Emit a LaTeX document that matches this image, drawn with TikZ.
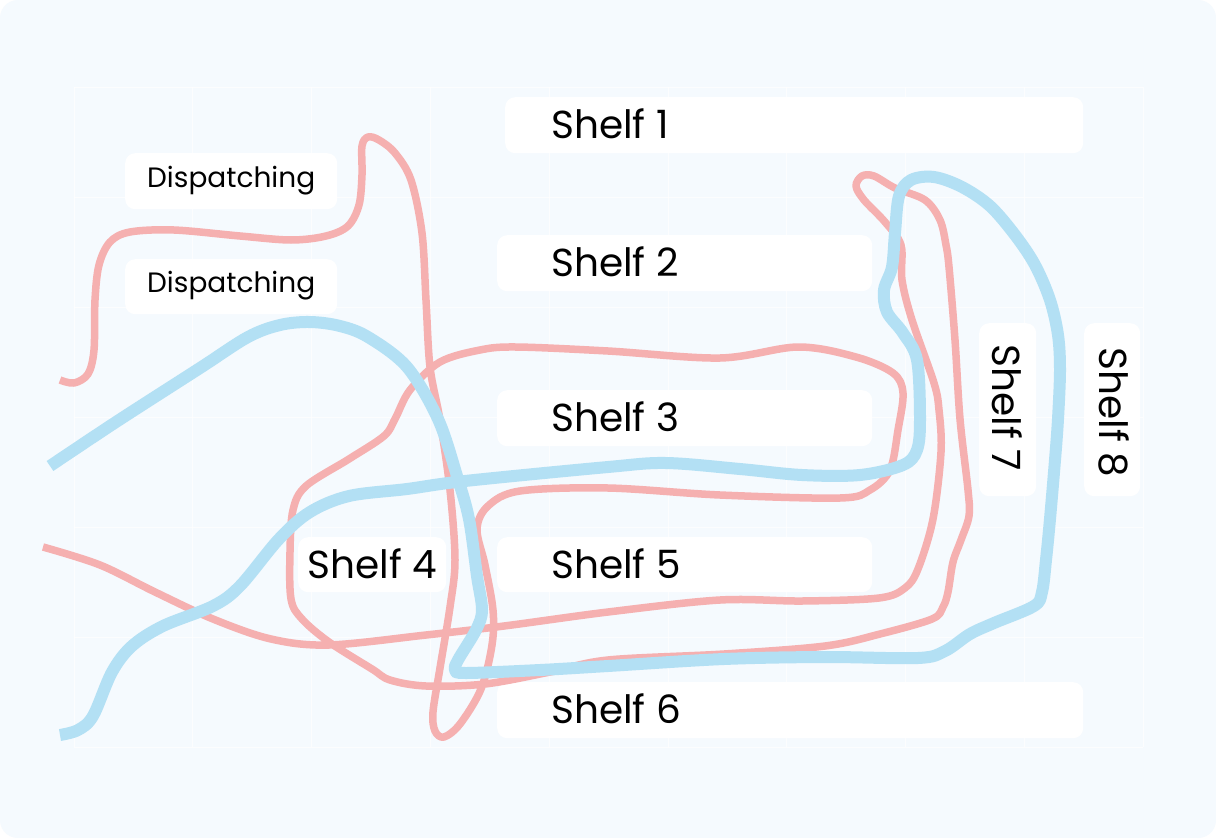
\documentclass[tikz,border=0pt]{standalone}
\usepackage{fontspec}
\setmainfont{Poppins}
\definecolor{bgblue}{HTML}{F5FAFE}
\definecolor{redline}{HTML}{F5B0B0}
\definecolor{blueline}{HTML}{B3E0F4}
\begin{document}
\begin{tikzpicture}[x=1pt,y=-1pt,
  gridline/.style={draw=white, line width=1pt, opacity=0.7},
  box/.style={fill=white, draw=none, rounded corners=10pt, inner sep=0pt, anchor=north west},
  shelftext/.style={font=\fontsize{39}{44}\selectfont, text=black, inner sep=0pt},
  disptext/.style={font=\fontsize{28}{32}\selectfont, text=black, inner sep=0pt},
  redpath/.style={draw=redline, line width=7.5pt, line join=round},
  bluepath/.style={draw=blueline, line width=12pt, line join=round}]
\useasboundingbox (0,0) rectangle (1216,838);
\fill[white] (0,0) rectangle (1216,838);
\fill[bgblue, rounded corners=18pt] (0,0) rectangle (1216,838);
% grid
\foreach \i in {0,...,9} \draw[gridline] ({74+118.8*\i},87) -- ({74+118.8*\i},747);
\foreach \j in {0,...,6} \draw[gridline] (74,{87+110*\j}) -- (1143,{87+110*\j});
% boxes
\node[box, minimum width=578pt, minimum height=56pt] (b1) at (505,97) {};
\node[box, minimum width=212pt, minimum height=56pt] (d1) at (125,153) {};
\node[box, minimum width=375pt, minimum height=56pt] (b2) at (497,235) {};
\node[box, minimum width=212pt, minimum height=55pt] (d2) at (125,259) {};
\node[box, minimum width=375pt, minimum height=56pt] (b3) at (497,390) {};
\node[box, minimum width=148pt, minimum height=55pt] (b4) at (298,537) {};
\node[box, minimum width=375pt, minimum height=55pt] (b5) at (497,537) {};
\node[box, minimum width=586pt, minimum height=56pt] (b6) at (497,682) {};
\node[box, minimum width=57pt, minimum height=173pt] (b7) at (979,323) {};
\node[box, minimum width=56pt, minimum height=173pt] (b8) at (1084,323) {};
% texts
\node[shelftext, anchor=west] (t1) at ([xshift=46pt,yshift=1pt]b1.west) {Shelf 1};
\node[shelftext, anchor=west] (t2) at ([xshift=54pt,yshift=1pt]b2.west) {Shelf 2};
\node[shelftext, anchor=west] (t3) at ([xshift=54pt,yshift=1pt]b3.west) {Shelf 3};
\node[shelftext] (t4) at ([yshift=1pt]b4.center) {Shelf 4};
\node[shelftext, anchor=west] (t5) at ([xshift=54pt,yshift=1pt]b5.west) {Shelf 5};
\node[shelftext, anchor=west] (t6) at ([xshift=54pt,yshift=1pt]b6.west) {Shelf 6};
\node[shelftext, rotate=-90] (t7) at ([yshift=2pt]b7.center) {Shelf 7};
\node[shelftext, rotate=-90] (t8) at ([yshift=-3pt,xshift=2pt]b8.center) {Shelf 8};
\node[disptext] (dt1) at ([yshift=1pt]d1.center) {Dispatching};
\node[disptext] (dt2) at ([yshift=1pt]d2.center) {Dispatching};
% red route
\draw[redpath] plot[smooth, tension=0.55] coordinates {
(43,547) (100,565) (155,592) (213,619) (271,639) (329,645) (426,635) (504,626)
(608,612) (720,600) (802,601) (879,598) (905,588) (918,569) (933,519) (941,452)
(939,410) (934,383) (912,320) (902,280) (901,245) (885,222) (864,200) (856,186)
(862,176) (874,176) (895,188) (925,200) (940,220) (946,245) (949,267) (955,340)
(960,419) (968,490) (969,516) (961,540) (953,562) (948,592) (943,607) (932,619)
(880,634) (825,646) (724,654) (608,660) (550,672) (485,684) (426,686) (390,680)
(372,669) (329,642) (302,619) (291,599) (290,552) (293,510) (306,486) (349,459)
(384,436) (395,419) (410,390) (440,362) (480,350) (516,347) (608,351) (720,358)
(798,347) (856,357) (893,373) (903,393) (898,430) (890,470) (870,490) (840,498)
(720,495) (608,488) (520,491) (488,506) (477,529) (485,565) (493,610) (492,645)
(481,689) (460,724) (444,737) (435,731) (433,712) (440,668) (450,607) (455,560)
(450,490) (440,420) (430,367) (426,300) (422,233) (411,180) (395,153) (379,140)
(368,137) (362,146) (362,175) (359,205) (348,226) (326,236) (291,240) (240,236)
(174,230) (130,232) (110,242) (99,265) (95,300) (94,350) (88,374) (74,383) (60,380)};
% blue route
\draw[bluepath] plot[smooth, tension=0.55] coordinates {
(50,466) (116,422) (200,368) (248,337) (280,325) (310,322) (340,326) (368,337)
(407,367) (438,419) (457,476) (469,519) (477,576) (482,610) (476,630) (458,660)
(455,670) (466,673) (540,670) (608,666) (724,659) (825,657) (918,658) (945,651)
(970,634) (994,623) (1034,606) (1042,592) (1046,560) (1050,519) (1055,460)
(1058,419) (1060,370) (1058,335) (1050,300) (1035,265) (1015,235) (990,206)
(962,187) (934,177) (911,180)
(899,196) (895,233) (892,267) (884,290) (887,312) (903,333) (917,360) (920,419)
(917,450) (903,465) (860,475) (802,475) (740,469) (666,463) (608,467) (465,481)
(407,489) (349,496) (310,512) (279,539) (240,586) (213,606) (163,626) (132,646)
(112,672) (93,716) (78,730) (60,735)};
\end{tikzpicture}
\end{document}
